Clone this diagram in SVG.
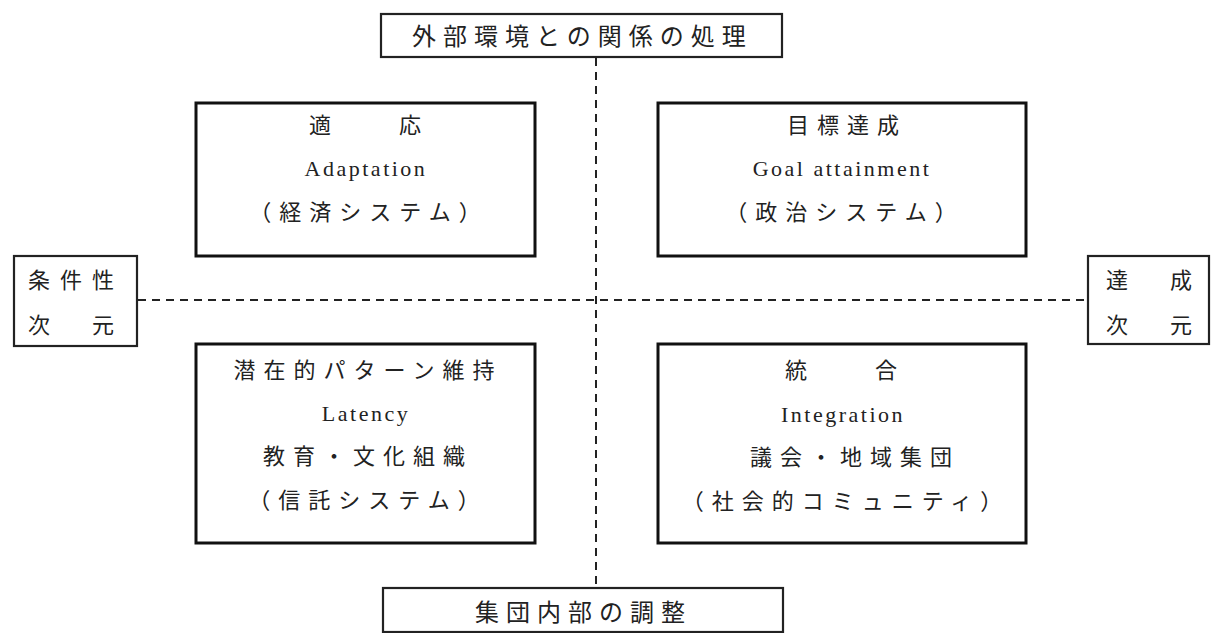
<svg xmlns="http://www.w3.org/2000/svg" width="1211" height="633" viewBox="0 0 1211 633">
  <style>
    .bg { fill: #ffffff; }
    .box { fill: #ffffff; stroke: #111111; stroke-width: 3; }
    .tbox { fill: #ffffff; stroke: #222222; stroke-width: 2.2; }
    .dash { fill: none; stroke: #222222; stroke-width: 2; stroke-dasharray: 8 6; }
    .jp { font-family: "Noto Sans CJK JP", "Noto Sans", sans-serif; font-size: 22px; fill: #222222; text-anchor: middle; letter-spacing: 8px; }
    .jpl { font-family: "Noto Sans CJK JP", "Noto Sans", sans-serif; font-size: 24px; fill: #222222; text-anchor: middle; letter-spacing: 7px; }
    .side { font-family: "Noto Sans CJK JP", "Noto Sans", sans-serif; font-size: 22px; fill: #222222; text-anchor: middle; letter-spacing: 10px; }
    .en { font-family: "Liberation Serif", "Noto Sans CJK JP", serif; font-size: 22px; fill: #222222; text-anchor: middle; letter-spacing: 2.5px; }
  </style>
  <rect class="bg" x="0" y="0" width="1211" height="633"/>

  <g id="connectors">
    <line class="dash" x1="596" y1="58" x2="596" y2="586"/>
    <line class="dash" x1="138" y1="300" x2="1087" y2="300"/>
  </g>

  <g id="top-external">
    <rect class="tbox" x="381" y="14" width="401" height="43"/>
    <text class="jpl" x="582.5" y="45">外部環境との関係の処理</text>
  </g>

  <g id="adaptation">
    <rect class="box" x="196" y="103" width="339" height="153"/>
    <text class="jp" x="369" y="133">適　　応</text>
    <text class="en" x="366" y="176">Adaptation</text>
    <text class="jp" x="369" y="220">（経済システム）</text>
  </g>

  <g id="goal">
    <rect class="box" x="658" y="103" width="368" height="153"/>
    <text class="jp" x="847" y="133">目標達成</text>
    <text class="en" x="842" y="176">Goal attainment</text>
    <text class="jp" x="845" y="220">（政治システム）</text>
  </g>

  <g id="conditional">
    <rect class="tbox" x="14" y="256" width="123" height="90"/>
    <text class="side" x="76" y="288">条件性</text>
    <text class="side" x="76" y="333">次　元</text>
  </g>

  <g id="consummatory">
    <rect class="tbox" x="1088" y="256" width="121" height="88"/>
    <text class="side" x="1154" y="288">達　成</text>
    <text class="side" x="1154" y="333">次　元</text>
  </g>

  <g id="latency">
    <rect class="box" x="196" y="344" width="339" height="199"/>
    <text class="jp" x="368" y="378">潜在的パターン維持</text>
    <text class="en" x="366" y="421">Latency</text>
    <text class="jp" x="368" y="464">教育・文化組織</text>
    <text class="jp" x="368" y="508">（信託システム）</text>
  </g>

  <g id="integration">
    <rect class="box" x="658" y="344" width="368" height="199"/>
    <text class="jp" x="845" y="378">統　　合</text>
    <text class="en" x="843" y="422">Integration</text>
    <text class="jp" x="855" y="465">議会・地域集団</text>
    <text class="jp" x="846" y="509">（社会的コミュニティ）</text>
  </g>

  <g id="bottom-internal">
    <rect class="tbox" x="383" y="588" width="400" height="44"/>
    <text class="jpl" x="583.5" y="621">集団内部の調整</text>
  </g>
</svg>
